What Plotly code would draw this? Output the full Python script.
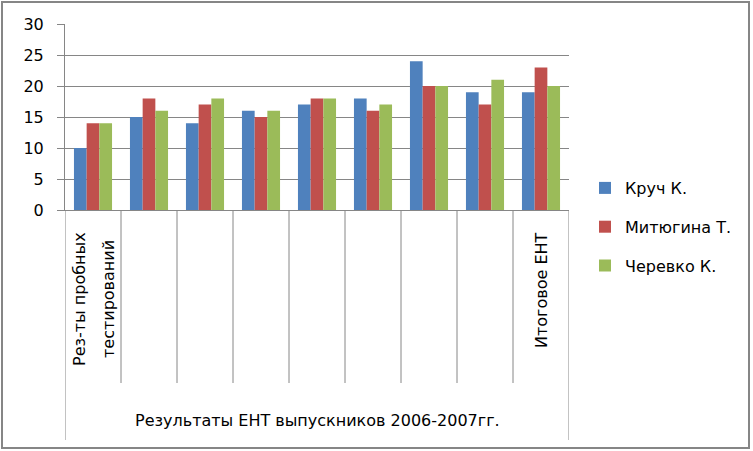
import plotly.graph_objects as go

# Data
series_names = ["Круч К.", "Митюгина Т.", "Черевко К."]
kruch = [10, 15, 14, 16, 17, 18, 24, 19, 19]
mityugina = [14, 18, 17, 15, 18, 16, 20, 17, 23]
cherevko = [14, 16, 18, 16, 18, 17, 20, 21, 20]
first_label_lines = ["Рез-ты пробных", "тестирований"]
last_label = "Итоговое ЕНТ"
outer_label = "Результаты ЕНТ выпускников 2006-2007гг."
y_ticks = [0, 5, 10, 15, 20, 25, 30]

colors = ["#4F81BD", "#C0504D", "#9BBB59"]
GRAY = "#868686"
FONT = "DejaVu Sans"

n = len(kruch)
xpos = list(range(n))

fig = go.Figure()
for i, (name, vals) in enumerate(zip(series_names, [kruch, mityugina, cherevko])):
    fig.add_trace(go.Bar(x=xpos, y=vals, name=name, marker_color=colors[i],
                         marker_line_width=0, legendgroup=name))

# plot area geometry (pixels)
L, R, T, B = 65, 569, 24, 210
H = B - T
W = R - L

def py(pix):
    return (B - pix) / H

def px(pix):
    return (pix - L) / W

shapes = []
# inner dividers
for k in range(1, n):
    shapes.append(dict(type="line", xref="x", yref="paper", x0=k - 0.5, x1=k - 0.5,
                       y0=0, y1=py(383), line=dict(color=GRAY, width=1)))
# outer dividers
for xv in [-0.5, n - 0.5]:
    shapes.append(dict(type="line", xref="x", yref="paper", x0=xv, x1=xv,
                       y0=0, y1=py(440), line=dict(color=GRAY, width=1)))
# outer border
shapes.append(dict(type="rect", xref="paper", yref="paper", x0=px(2), x1=px(749),
                   y0=py(448), y1=py(2), line=dict(color=GRAY, width=2)))

annotations = [
    dict(xref="x", yref="paper", x=0, y=py(299), xshift=-14, text=first_label_lines[0],
         textangle=-90, showarrow=False, xanchor="center", yanchor="middle",
         font=dict(family=FONT, size=16, color="black")),
    dict(xref="x", yref="paper", x=0, y=py(299), xshift=15, text=first_label_lines[1],
         textangle=-90, showarrow=False, xanchor="center", yanchor="middle",
         font=dict(family=FONT, size=16, color="black")),
    dict(xref="x", yref="paper", x=n - 1, y=py(290), text=last_label,
         textangle=-90, showarrow=False, xanchor="center", yanchor="middle",
         font=dict(family=FONT, size=16, color="black")),
    dict(xref="paper", yref="paper", x=0.5, y=py(420), text=outer_label,
         showarrow=False, xanchor="center", yanchor="middle",
         font=dict(family=FONT, size=16, color="black")),
]

fig.update_layout(
    width=753, height=451,
    margin=dict(l=L, r=753 - R, t=T, b=451 - B, pad=0),
    paper_bgcolor="white", plot_bgcolor="white",
    barmode="group", bargap=0.32, bargroupgap=0,
    font=dict(family=FONT, size=16, color="black"),
    showlegend=True,
    legend=dict(x=px(585), y=py(227), xanchor="left", yanchor="middle",
                font=dict(family=FONT, size=16, color="black"),
                tracegroupgap=15, bgcolor="rgba(0,0,0,0)", traceorder="grouped"),
    shapes=shapes, annotations=annotations,
)
fig.update_xaxes(range=[-0.5, n - 0.5], showticklabels=False, showgrid=False,
                 zeroline=False, showline=True, linecolor=GRAY, linewidth=1,
                 ticks="", fixedrange=True)
fig.update_yaxes(range=[0, 30], tickvals=y_ticks, showgrid=True, gridcolor=GRAY,
                 gridwidth=1, zeroline=False, showline=True, linecolor=GRAY,
                 linewidth=1, ticks="outside", ticklen=7, tickcolor=GRAY,
                 ticklabelstandoff=10, tickfont=dict(family=FONT, size=16, color="black"))

fig.write_html("out.html", config={"displayModeBar": False},
               post_script="document.body.style.margin='0';document.body.style.padding='0';")
